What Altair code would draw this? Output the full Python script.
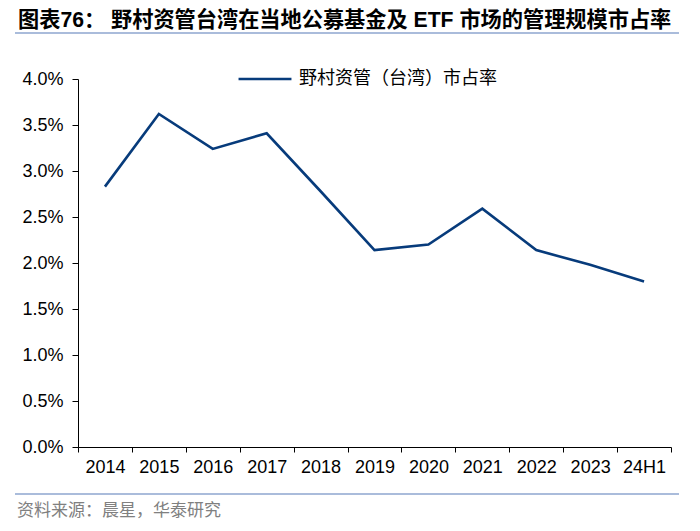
import altair as alt
import pandas as pd

years = ["2014", "2015", "2016", "2017", "2018", "2019", "2020", "2021", "2022", "2023", "24H1"]
share = [0.0283, 0.0362, 0.0324, 0.0341, 0.0278, 0.0214, 0.0220, 0.0259, 0.0214, 0.0198, 0.0180]
series_name = "野村资管（台湾）市占率"
y_ticks = [0.0, 0.005, 0.01, 0.015, 0.02, 0.025, 0.03, 0.035, 0.04]
title_text = "图表76：  野村资管台湾在当地公募基金及 ETF 市场的管理规模市占率"
source_text = "资料来源：晨星，华泰研究"

LINE_COLOR = "#073B7B"
RULE_COLOR = "#8EA6CF"
LATIN = "Liberation Sans, Arial, Noto Sans CJK SC"
CJK = "Noto Sans CJK SC"

df = pd.DataFrame({"year": years, "share": share, "series": series_name})
one = pd.DataFrame({"k": [0]})

line = alt.Chart(df).mark_line(strokeWidth=2.6).encode(
    x=alt.X(
        "year:N",
        sort=years,
        scale=alt.Scale(type="band", paddingInner=0, paddingOuter=0),
        axis=alt.Axis(
            title=None, labelAngle=0, tickBand="extent", tickSize=5,
            labelFontSize=18, labelFont=LATIN, labelColor="black",
            domainColor="black", tickColor="black", labelPadding=6, grid=False,
        ),
    ),
    y=alt.Y(
        "share:Q",
        scale=alt.Scale(domain=[0, 0.04], nice=False),
        axis=alt.Axis(
            values=y_ticks, format=".1%", title=None, tickSize=6, labelPadding=9,
            labelFontSize=18, labelFont=LATIN, labelColor="black",
            domainColor="black", tickColor="black", grid=False,
        ),
    ),
    color=alt.Color(
        "series:N",
        scale=alt.Scale(domain=[series_name], range=[LINE_COLOR]),
        legend=alt.Legend(
            title=None, orient="none", legendX=159, legendY=-28,
            symbolType="stroke", symbolSize=2800, symbolStrokeWidth=2.6,
            labelFontSize=18, labelFont=CJK, labelColor="black",
            labelOffset=6, padding=0, labelLimit=400,
        ),
    ),
)

title = alt.Chart(one).mark_text(
    text=title_text, align="left", baseline="middle", fontSize=21.2,
    fontWeight="bold", font=LATIN, color="black",
).encode(x=alt.value(-60), y=alt.value(-58))

top_rule = alt.Chart(one).mark_rule(color=RULE_COLOR, strokeWidth=1.5).encode(
    x=alt.value(-63), x2=alt.value(601), y=alt.value(-46)
)
bottom_rule = alt.Chart(one).mark_rule(color=RULE_COLOR, strokeWidth=1.5).encode(
    x=alt.value(-63), x2=alt.value(601), y=alt.value(415)
)
source = alt.Chart(one).mark_text(
    text=source_text, align="left", baseline="middle", fontSize=17,
    font=CJK, color="#808080",
).encode(x=alt.value(-61), y=alt.value(432))

chart = alt.layer(line, title, top_rule, bottom_rule, source).properties(
    width=593,
    height=368,
    padding={"left": 70, "top": 71, "right": 21, "bottom": 76},
    autosize=alt.AutoSizeParams(type="none"),
).configure_view(stroke=None)

chart.save("out.html", embed_options={"renderer": "svg", "actions": False})
